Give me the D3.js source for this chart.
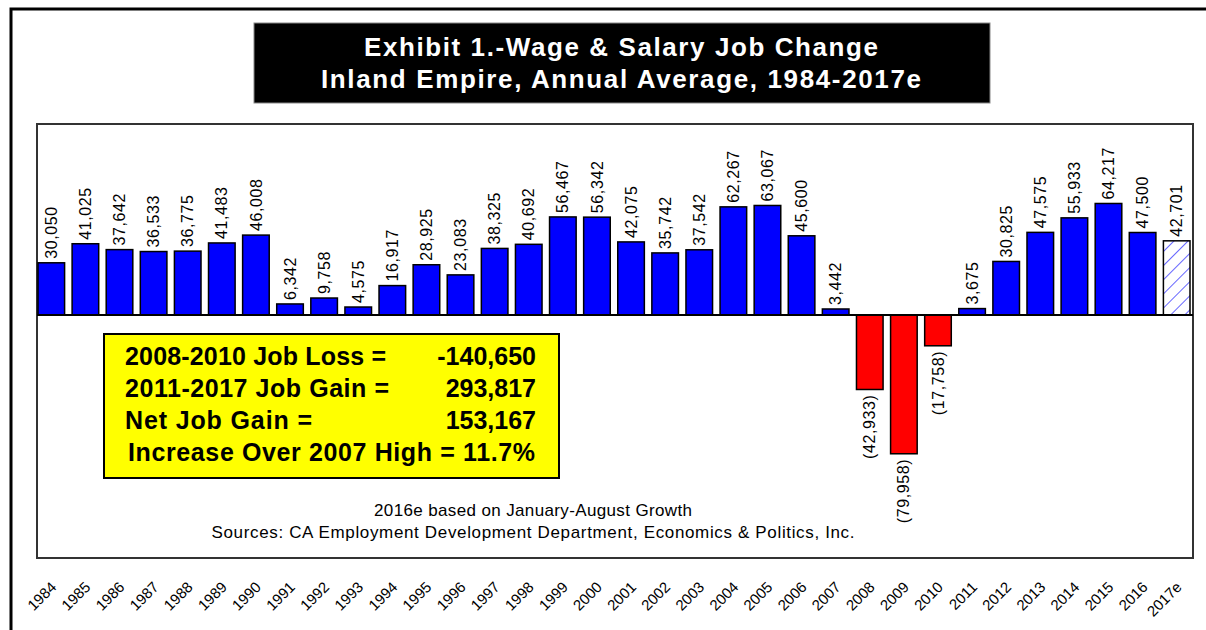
<!DOCTYPE html>
<html>
<head>
<meta charset="utf-8">
<script src="https://cdn.jsdelivr.net/npm/d3@7"></script>
<style>
  body { margin: 0; background: #fff; }
  svg { display: block; font-family: Arial, "Liberation Sans", sans-serif; }
</style>
</head>
<body>
<svg id="chart"></svg>
<script>
const width = 1206;
const height = 630;

// **************************** DATA ******************************************
const years = ["1984", "1985", "1986", "1987", "1988", "1989", "1990", "1991", "1992", "1993",
  "1994", "1995", "1996", "1997", "1998", "1999", "2000", "2001", "2002", "2003",
  "2004", "2005", "2006", "2007", "2008", "2009", "2010", "2011", "2012", "2013",
  "2014", "2015", "2016", "2017e"];
const jobChange = [30050, 41025, 37642, 36533, 36775, 41483, 46008, 6342, 9758, 4575,
  16917, 28925, 23083, 38325, 40692, 56467, 56342, 42075, 35742, 37542,
  62267, 63067, 45600, 3442, -42933, -79958, -17758, 3675, 30825, 47575,
  55933, 64217, 47500, 42701];
const estimateYear = "2017e";
const titleLines = ["Exhibit 1.-Wage & Salary Job Change", "Inland Empire, Annual Average, 1984-2017e"];
const boxLabels = ["2008-2010 Job Loss =", "2011-2017 Job Gain =", "Net Job Gain ="];
const boxValues = ["-140,650", "293,817", "153,167"];
const boxFooter = "Increase Over 2007 High = 11.7%";
const notes = ["2016e based on January-August Growth",
  "Sources:  CA Employment Development Department, Economics & Politics, Inc."];

const data = years.map((y, i) => ({year: y, value: jobChange[i]}));

// **************************** CHART ******************************************
const svg = d3.select("#chart")
  .attr("width", width)
  .attr("height", height)
  .attr("viewBox", [0, 0, width, height]);

// hatch for the estimate bar
svg.append("defs").append("pattern")
  .attr("id", "hatch")
  .attr("patternUnits", "userSpaceOnUse")
  .attr("width", 10)
  .attr("height", 10)
  .attr("patternTransform", "rotate(45)")
  .call(p => p.append("rect").attr("width", 10).attr("height", 10).attr("fill", "#fff"))
  .call(p => p.append("line")
    .attr("x1", 0).attr("y1", 0).attr("x2", 0).attr("y2", 10)
    .attr("stroke", "#0000ff").attr("stroke-width", 1.2));

// outer frame
svg.append("rect")
  .attr("x", 11).attr("y", 9)
  .attr("width", 1220).attr("height", 650)
  .attr("fill", "none")
  .attr("stroke", "#000")
  .attr("stroke-width", 3);

// title box
svg.append("rect")
  .attr("x", 254).attr("y", 23)
  .attr("width", 736).attr("height", 80)
  .attr("fill", "#000")
  .attr("stroke", "#888")
  .attr("stroke-width", 1);

const titleWidths = [514, 600];
svg.append("g")
  .attr("fill", "#fff")
  .attr("text-anchor", "middle")
  .style("font-size", "26px")
  .style("font-weight", "bold")
  .selectAll("text")
  .data(titleLines)
  .join("text")
  .attr("x", 621)
  .attr("y", (d, i) => 56 + i * 32)
  .attr("textLength", (d, i) => titleWidths[i])
  .attr("lengthAdjust", "spacing")
  .text(d => d);

// plot area
const plot = {left: 37, right: 1193, top: 124, bottom: 558};

svg.append("rect")
  .attr("x", plot.left).attr("y", plot.top)
  .attr("width", plot.right - plot.left)
  .attr("height", plot.bottom - plot.top)
  .attr("fill", "#fff")
  .attr("stroke", "#333")
  .attr("stroke-width", 2);

const x = d3.scaleBand()
  .domain(years)
  .range([38, 1190])
  .paddingInner(0.22)
  .paddingOuter(0);

const y = d3.scaleLinear()
  .domain([-140000, 110000])
  .range([plot.bottom, plot.top]);

// bars
svg.append("g")
  .attr("stroke", "#000")
  .attr("stroke-width", 1.5)
  .selectAll("rect")
  .data(data)
  .join("rect")
  .attr("x", d => x(d.year))
  .attr("width", x.bandwidth())
  .attr("y", d => y(Math.max(0, d.value)))
  .attr("height", d => Math.abs(y(d.value) - y(0)))
  .attr("fill", d => d.year === estimateYear ? "url(#hatch)" : (d.value < 0 ? "#ff0000" : "#0000ff"));

// zero line
svg.append("line")
  .attr("x1", plot.left).attr("x2", plot.right)
  .attr("y1", y(0)).attr("y2", y(0))
  .attr("stroke", "#000")
  .attr("stroke-width", 2);

// value labels, all read bottom to top
const fmt = d3.format(",");
svg.append("g")
  .style("font-size", "16px")
  .style("letter-spacing", "0.6px")
  .attr("fill", "#000")
  .selectAll("text")
  .data(data)
  .join("text")
  .attr("transform", d => {
    const cx = x(d.year) + x.bandwidth() / 2;
    return d.value >= 0
      ? `translate(${cx},${y(d.value) - 4}) rotate(-90)`
      : `translate(${cx},${y(d.value) + 5}) rotate(-90)`;
  })
  .attr("dy", "0.35em")
  .attr("text-anchor", d => d.value >= 0 ? "start" : "end")
  .text(d => d.value >= 0 ? fmt(d.value) : `(${fmt(-d.value)})`);

// year labels
svg.append("g")
  .style("font-size", "15px")
  .attr("fill", "#000")
  .attr("text-anchor", "end")
  .selectAll("text")
  .data(years)
  .join("text")
  .attr("transform", d => `translate(${x(d) + x.bandwidth() / 2 + 6},${588}) rotate(-45)`)
  .text(d => d);

// yellow summary box
const box = svg.append("g");
box.append("rect")
  .attr("x", 104).attr("y", 334)
  .attr("width", 455).attr("height", 144)
  .attr("fill", "#ffff00")
  .attr("stroke", "#000")
  .attr("stroke-width", 2);

const boxText = box.append("g")
  .style("font-size", "25px")
  .style("font-weight", "bold")
  .attr("fill", "#000");

const labelWidths = [261, 264, 187];
boxText.selectAll(".lbl")
  .data(boxLabels)
  .join("text")
  .attr("class", "lbl")
  .attr("x", 125)
  .attr("y", (d, i) => 365 + i * 32)
  .attr("textLength", (d, i) => labelWidths[i])
  .attr("lengthAdjust", "spacing")
  .text(d => d);

boxText.selectAll(".val")
  .data(boxValues)
  .join("text")
  .attr("class", "val")
  .attr("x", 536)
  .attr("y", (d, i) => 365 + i * 32)
  .attr("text-anchor", "end")
  .text(d => d);

boxText.append("text")
  .attr("x", 128)
  .attr("y", 461)
  .attr("textLength", 407)
  .attr("lengthAdjust", "spacing")
  .text(boxFooter);

// notes
const noteWidths = [318, 643];
svg.append("g")
  .style("font-size", "17px")
  .attr("fill", "#000")
  .attr("text-anchor", "middle")
  .selectAll("text")
  .data(notes)
  .join("text")
  .attr("x", 533)
  .attr("y", (d, i) => 516 + i * 22)
  .attr("textLength", (d, i) => noteWidths[i])
  .attr("lengthAdjust", "spacing")
  .text(d => d);
</script>
</body>
</html>
